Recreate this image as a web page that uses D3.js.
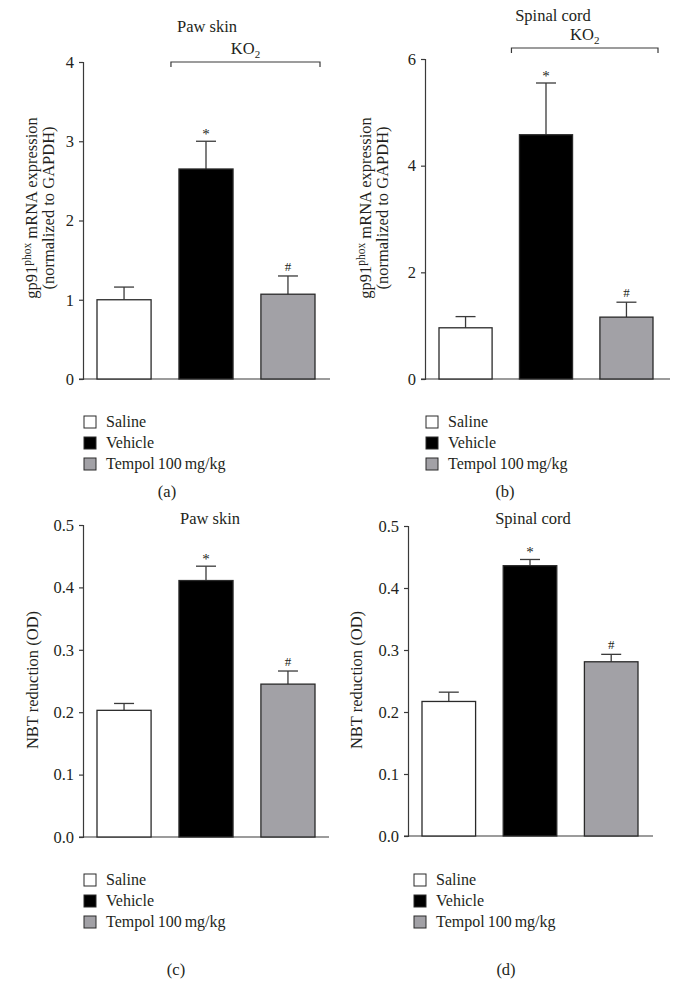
<!DOCTYPE html>
<html><head><meta charset="utf-8">
<script src="https://cdn.jsdelivr.net/npm/d3@7"></script>
<style>
html,body{margin:0;padding:0;background:#fff;}
text{font-family:"Liberation Serif","DejaVu Serif",serif;fill:#231f20;}
</style></head>
<body>
<svg id="c" width="678" height="986"></svg>
<script>
const groups = ["Saline", "Vehicle", "Tempol 100 mg/kg"];
const colors = ["#ffffff", "#000000", "#a2a1a6"];

const mrnaSkin = [1.00, 2.65, 1.07];
const mrnaSkinErr = [1.16, 3.00, 1.30];
const mrnaCord = [0.96, 4.58, 1.16];
const mrnaCordErr = [1.17, 5.55, 1.44];
const nbtSkin = [0.203, 0.411, 0.245];
const nbtSkinErr = [0.214, 0.434, 0.266];
const nbtCord = [0.217, 0.436, 0.281];
const nbtCordErr = [0.232, 0.446, 0.293];
const marks = ["", "*", "#"];

const ticksA = [0, 1, 2, 3, 4];
const ticksB = [0, 2, 4, 6];
const ticksC = [0, 0.1, 0.2, 0.3, 0.4, 0.5];

const FS = "16.5px";
const svg = d3.select("#c");

function panel(o) {
  const g = svg.append("g");
  const y = d3.scaleLinear().domain(o.domain).range([o.y0, o.y1]);
  const x = d3.scaleBand().domain(groups).range([o.xb0, o.xb1]).paddingInner(0.34).paddingOuter(0);
  const ax = g.append("g").attr("transform", `translate(${o.ax},0)`)
    .call(d3.axisLeft(y).tickValues(o.ticks).tickSize(4).tickPadding(5).tickFormat(o.fmt));
  ax.select(".domain").attr("stroke", "#3a3a3a").attr("stroke-width", 1.2);
  ax.selectAll(".tick line").attr("stroke", "#3a3a3a").attr("stroke-width", 1.2);
  ax.selectAll(".tick text").style("font-size", FS).attr("fill", "#231f20")
    .style("font-family", '"Liberation Serif",serif');
  g.append("line").attr("x1", o.ax - 4).attr("x2", o.baseEnd).attr("y1", y(0)).attr("y2", y(0))
    .attr("stroke", "#3a3a3a").attr("stroke-width", 1.2);
  groups.forEach((d, i) => {
    const cx = x(d) + x.bandwidth() / 2;
    g.append("line").attr("x1", cx).attr("x2", cx).attr("y1", y(o.vals[i])).attr("y2", y(o.errs[i]))
      .attr("stroke", "#3a3a3a").attr("stroke-width", 1.3);
    g.append("line").attr("x1", cx - 10).attr("x2", cx + 10).attr("y1", y(o.errs[i])).attr("y2", y(o.errs[i]))
      .attr("stroke", "#3a3a3a").attr("stroke-width", 1.3);
    if (marks[i]) {
      g.append("text").attr("x", cx).attr("y", marks[i] === "*" ? y(o.errs[i]) - 2 : y(o.errs[i]) - 5)
        .attr("text-anchor", "middle")
        .style("font-size", marks[i] === "*" ? "15px" : "13px").text(marks[i]);
    }
  });
  g.selectAll("rect.bar").data(groups).enter().append("rect")
    .attr("x", d => x(d)).attr("width", x.bandwidth())
    .attr("y", (d, i) => y(o.vals[i])).attr("height", (d, i) => y(0) - y(o.vals[i]))
    .attr("fill", (d, i) => colors[i]).attr("stroke", "#2a2a2a").attr("stroke-width", 1.3);
  g.append("text").attr("x", o.titleX).attr("y", o.titleY).attr("text-anchor", "middle")
    .style("font-size", FS).text(o.title);
  if (o.bracket) {
    const bx0 = x(groups[1]) - 8, bx1 = x(groups[2]) + x.bandwidth() + 5, by = o.bracketY;
    g.append("path").attr("d", `M${bx0},${by + 5}V${by}H${bx1}V${by + 5}`)
      .attr("fill", "none").attr("stroke", "#3a3a3a").attr("stroke-width", 1.2);
    const t = g.append("text").attr("x", (bx0 + bx1) / 2).attr("y", by - 8).attr("text-anchor", "middle")
      .style("font-size", FS);
    t.append("tspan").text("KO");
    t.append("tspan").attr("dy", 4).style("font-size", "11px").text("2");
  }
  const yt = g.append("g").attr("transform", `translate(${o.ytX},${o.ytY}) rotate(-90)`);
  if (o.mrna) {
    const t1 = yt.append("text").attr("x", 0).attr("y", 0).attr("text-anchor", "middle").style("font-size", FS);
    t1.append("tspan").text("gp91");
    t1.append("tspan").attr("dy", -6).style("font-size", "11.5px").text("phox");
    t1.append("tspan").attr("dy", 6).text(" mRNA expression");
    yt.append("text").attr("x", 0).attr("y", 17).attr("text-anchor", "middle").style("font-size", FS)
      .text("(normalized to GAPDH)");
  } else {
    yt.append("text").attr("x", 0).attr("y", 0).attr("text-anchor", "middle").style("font-size", FS)
      .text("NBT reduction (OD)");
  }
  groups.forEach((d, i) => {
    const ly = o.legY + i * 21;
    g.append("rect").attr("x", o.legX).attr("y", ly - 6).attr("width", 12).attr("height", 12)
      .attr("fill", colors[i]).attr("stroke", "#2a2a2a").attr("stroke-width", 1);
    g.append("text").attr("x", o.legX + 22).attr("y", ly + 5).style("font-size", "16px")
      .style("word-spacing", "-1px").text(d);
  });
  g.append("text").attr("x", o.capX).attr("y", o.capY).attr("text-anchor", "middle")
    .style("font-size", FS).text(o.cap);
}

panel({domain: [0, 4], y0: 379, y1: 62, ax: 83, xb0: 97, xb1: 315, baseEnd: 330,
  ticks: ticksA, fmt: d3.format("d"), vals: mrnaSkin, errs: mrnaSkinErr,
  title: "Paw skin", titleX: 207, titleY: 32, bracket: true, bracketY: 62,
  mrna: true, ytX: 37, ytY: 208, legX: 84, legY: 422, cap: "(a)", capX: 167, capY: 497});

panel({domain: [0, 6], y0: 379, y1: 59, ax: 425, xb0: 439, xb1: 653, baseEnd: 670,
  ticks: ticksB, fmt: d3.format("d"), vals: mrnaCord, errs: mrnaCordErr,
  title: "Spinal cord", titleX: 553, titleY: 21, bracket: true, bracketY: 48,
  mrna: true, ytX: 371, ytY: 208, legX: 426, legY: 422, cap: "(b)", capX: 505, capY: 497});

panel({domain: [0, 0.5], y0: 837, y1: 525, ax: 83, xb0: 97, xb1: 315, baseEnd: 329,
  ticks: ticksC, fmt: d3.format(".1f"), vals: nbtSkin, errs: nbtSkinErr,
  title: "Paw skin", titleX: 210, titleY: 524, bracket: false,
  mrna: false, ytX: 38, ytY: 680, legX: 84, legY: 880, cap: "(c)", capX: 176, capY: 975});

panel({domain: [0, 0.5], y0: 836, y1: 526, ax: 408, xb0: 422, xb1: 638, baseEnd: 653,
  ticks: ticksC, fmt: d3.format(".1f"), vals: nbtCord, errs: nbtCordErr,
  title: "Spinal cord", titleX: 533, titleY: 524, bracket: false,
  mrna: false, ytX: 362, ytY: 680, legX: 414, legY: 880, cap: "(d)", capX: 506, capY: 975});
</script>
</body></html>
